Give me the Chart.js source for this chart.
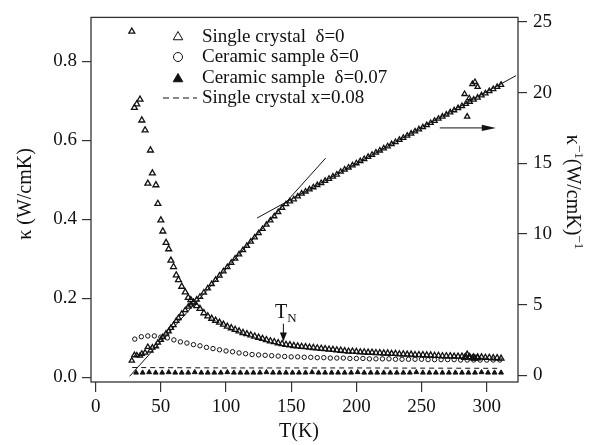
<!DOCTYPE html>
<html>
<head>
<meta charset="utf-8">
<script src="https://cdn.jsdelivr.net/npm/chart.js@4.4.1/dist/chart.umd.min.js"></script>
<style>
  html, body { margin: 0; padding: 0; background: #fff; }
  #wrap { width: 605px; height: 445px; }
</style>
</head>
<body>
<div id="wrap"><canvas id="kappaChart" width="605" height="445"></canvas></div>
<script>
// Single crystal delta=0 : kappa (left axis) and 1/kappa (right axis)
const tempSingle = [
  27.7, 29.7, 31.5, 34, 35.4, 37.9, 40, 42, 43.5, 46.2, 47.7, 50, 51.5, 54, 56, 57.7, 59.7, 61.8, 63.5, 66, 68.7, 71, 73, 75, 77.5,
  80, 83, 86, 89, 92, 95, 98, 101, 104, 107, 110, 113, 116, 119, 122, 125, 128, 131, 134, 137, 140, 143, 146, 149,
  152, 155, 158, 161, 164, 167, 170, 173, 176, 179, 182, 185, 188, 191, 194, 197, 200, 203, 206, 209, 212, 215, 218,
  221, 224, 227, 230, 233, 236, 239, 242, 245, 248, 251, 254, 257, 260, 263, 266, 269, 272, 275, 278, 281, 284, 287,
  290, 293, 296, 299, 302, 305, 308, 311,
  283, 285, 286.6, 289, 291, 293
];
const kappaSingle = [
  0.876, 0.683, 0.692, 0.704, 0.651, 0.626, 0.491, 0.575, 0.517, 0.487, 0.44, 0.398, 0.37, 0.341, 0.325, 0.296, 0.28, 0.259, 0.247, 0.23, 0.216, 0.202, 0.196, 0.19, 0.181,
  0.174, 0.163, 0.155, 0.149, 0.144, 0.139, 0.134, 0.129, 0.125, 0.121, 0.117, 0.113, 0.110, 0.107, 0.104, 0.101, 0.098, 0.095, 0.092, 0.090, 0.087, 0.085, 0.083, 0.082,
  0.080, 0.079, 0.078, 0.077, 0.076, 0.075, 0.074, 0.073, 0.072, 0.071, 0.070, 0.069, 0.068, 0.067, 0.066, 0.066, 0.065, 0.064, 0.064, 0.063, 0.063, 0.062, 0.062,
  0.061, 0.061, 0.060, 0.060, 0.059, 0.059, 0.058, 0.058, 0.057, 0.057, 0.057, 0.056, 0.056, 0.055, 0.055, 0.054, 0.054, 0.054, 0.053, 0.053, 0.053, 0.052, 0.052,
  0.051, 0.051, 0.051, 0.050, 0.050, 0.049, 0.049, 0.048,
  0.050, 0.058, 0.051, 0.0485, 0.048, 0.049
];
const invKappaSingle = [
  1.03, 1.42, 1.40, 1.38, 1.52, 1.6, 2.0, 1.75, 1.95, 2.05, 2.3, 2.5, 2.7, 2.95, 3.1, 3.35, 3.55, 3.85, 4.05, 4.35, 4.6, 4.85, 5.0, 5.15, 5.35,
  5.55, 5.85, 6.15, 6.45, 6.75, 7.05, 7.35, 7.65, 7.95, 8.25, 8.55, 8.85, 9.15, 9.45, 9.75, 10.05, 10.35, 10.65, 10.95, 11.25, 11.55, 11.85, 12.1, 12.3,
  12.45, 12.65, 12.85, 13.0, 13.15, 13.3, 13.45, 13.6, 13.75, 13.9, 14.05, 14.2, 14.4, 14.55, 14.7, 14.85, 15.0, 15.15, 15.3, 15.45, 15.6, 15.75, 15.9,
  16.05, 16.2, 16.35, 16.5, 16.65, 16.8, 16.95, 17.1, 17.25, 17.4, 17.55, 17.7, 17.85, 18.0, 18.15, 18.3, 18.45, 18.6, 18.75, 18.9, 19.05, 19.2, 19.35,
  19.5, 19.65, 19.8, 19.95, 20.1, 20.25, 20.4, 20.55,
  19.9, 18.3, 19.6, 20.6, 20.75, 20.4
];

// Ceramic sample delta=0
const tempCeramic = [30, 35, 40, 45, 50, 55, 60, 65, 70, 75, 80, 85, 90, 95, 100, 105, 110, 115, 120, 125, 130, 135, 140, 145, 150,
  155, 160, 165, 170, 175, 180, 185, 190, 195, 200, 205, 210, 215, 220, 225, 230, 235, 240, 245, 250, 255, 260, 265, 270, 275,
  280, 285, 290, 295, 300, 305, 310];
const kappaCeramic = [0.097, 0.103, 0.105, 0.105, 0.102, 0.100, 0.095, 0.090, 0.087, 0.083, 0.080, 0.076, 0.073, 0.070, 0.067, 0.065, 0.062, 0.060, 0.058, 0.057, 0.056, 0.055, 0.054, 0.053, 0.052,
  0.052, 0.051, 0.051, 0.050, 0.050, 0.049, 0.049, 0.049, 0.048, 0.048, 0.048, 0.047, 0.047, 0.047, 0.047, 0.046, 0.046, 0.046, 0.046, 0.046, 0.045, 0.045, 0.045, 0.045, 0.045,
  0.044, 0.044, 0.044, 0.044, 0.044, 0.044, 0.044];

// Ceramic sample delta=0.07
const tempCeramic07 = [31, 36, 41, 46, 51, 56, 61, 66, 71, 76, 81, 86, 91, 96, 101, 106, 111, 116, 121, 126, 131, 136, 141, 146, 151,
  156, 161, 166, 171, 176, 181, 186, 191, 196, 201, 206, 211, 216, 221, 226, 231, 236, 241, 246, 251, 256, 261, 266, 271, 276,
  281, 286, 291, 296, 301, 306, 311];
const kappaCeramic07 = [0.012, 0.012, 0.013, 0.012, 0.012, 0.013, 0.012, 0.012, 0.012, 0.013, 0.012, 0.012, 0.012, 0.012, 0.013, 0.012, 0.012, 0.012, 0.012, 0.012, 0.013, 0.012, 0.012, 0.012, 0.012,
  0.012, 0.012, 0.013, 0.012, 0.012, 0.012, 0.012, 0.012, 0.012, 0.013, 0.012, 0.012, 0.012, 0.012, 0.012, 0.012, 0.012, 0.012, 0.013, 0.012, 0.012, 0.012, 0.012, 0.012, 0.012,
  0.012, 0.012, 0.012, 0.013, 0.012, 0.012, 0.012];

// Single crystal x=0.08 (dashed)
const tempX008 = [28, 100, 200, 311];
const kappaX008 = [0.025, 0.024, 0.024, 0.023];

// straight-line fits on 1/kappa
const fitLowT = [26, 176.4];
const fitLowInv = [-0.08, 15.36];
const fitHighT = [123.8, 322.5];
const fitHighInv = [11.12, 21.2];

const xTicks = [0, 50, 100, 150, 200, 250, 300];
const yTicks = [0.0, 0.2, 0.4, 0.6, 0.8];
const y2Ticks = [0, 5, 10, 15, 20, 25];

const legendLabels = ["Single crystal  \u03b4=0", "Ceramic sample \u03b4=0", "Ceramic sample  \u03b4=0.07", "Single crystal x=0.08"];

const FONT = "'Liberation Serif', 'Times New Roman', serif";
const INK = "#111";

function pts(xs, ys) {
    return xs.map((x, i) => ({ x, y: ys[i] }));
}

function fixedTicks(list) {
    return scale => { scale.ticks = list.map(v => ({ value: v })); };
}

function drawArrowHead(ctx, x, y, dx, dy, len, half) {
    // tip at (x,y), pointing along (dx,dy)
    const px = -dy, py = dx;
    ctx.beginPath();
    ctx.moveTo(x, y);
    ctx.lineTo(x - dx * len + px * half, y - dy * len + py * half);
    ctx.lineTo(x - dx * len - px * half, y - dy * len - py * half);
    ctx.closePath();
    ctx.fill();
}

const decorPlugin = {
    id: "decor",
    afterDraw(chart) {
        const { ctx, chartArea: a, scales } = chart;
        const sx = scales.x, sy = scales.y, sy2 = scales.y2;
        ctx.save();

        // frame
        ctx.strokeStyle = "#333";
        ctx.lineWidth = 1.3;
        ctx.strokeRect(a.left, a.top, a.right - a.left, a.bottom - a.top);

        ctx.fillStyle = INK;
        ctx.strokeStyle = INK;

        // axis titles
        ctx.font = "20px " + FONT;
        ctx.textAlign = "center";
        ctx.textBaseline = "middle";
        ctx.fillText("T(K)", 299, 432);

        ctx.save();
        ctx.translate(26, 194);
        ctx.rotate(-Math.PI / 2);
        ctx.fillText("\u03ba (W/cmK)", 0, 0);
        ctx.restore();

        const parts = [["\u03ba", 20, 0], ["\u22121", 13, -8], ["(W/cmK)", 20, 0], ["\u22121", 13, -8]];
        let total = 0;
        parts.forEach(p => { ctx.font = p[1] + "px " + FONT; total += ctx.measureText(p[0]).width; });
        ctx.save();
        ctx.translate(574, 192);
        ctx.rotate(Math.PI / 2);
        ctx.textAlign = "left";
        ctx.textBaseline = "alphabetic";
        let cx = -total / 2;
        parts.forEach(p => {
            ctx.font = p[1] + "px " + FONT;
            ctx.fillText(p[0], cx, 7 + p[2]);
            cx += ctx.measureText(p[0]).width;
        });
        ctx.restore();

        // legend
        const lx = 178, ly = [37, 57, 78, 98];
        ctx.lineWidth = 1;
        ctx.fillStyle = "#fff";
        Chart.helpers.drawPoint(ctx, { pointStyle: "triangle", radius: 5.5, borderWidth: 1 }, lx, ly[0]);
        Chart.helpers.drawPoint(ctx, { pointStyle: "circle", radius: 4.5, borderWidth: 1 }, lx, ly[1]);
        ctx.fillStyle = INK;
        Chart.helpers.drawPoint(ctx, { pointStyle: "triangle", radius: 5.5, borderWidth: 1 }, lx, ly[2] + 1);
        ctx.setLineDash([6, 4]);
        ctx.beginPath();
        ctx.moveTo(163, ly[3]);
        ctx.lineTo(197, ly[3]);
        ctx.stroke();
        ctx.setLineDash([]);

        ctx.font = "19px " + FONT;
        ctx.textAlign = "left";
        ctx.textBaseline = "middle";
        legendLabels.forEach((t, i) => ctx.fillText(t, 202, ly[i]));

        // T_N marker
        const tnX = sx.getPixelForValue(144);
        ctx.font = "20px " + FONT;
        ctx.textBaseline = "alphabetic";
        const tX = sx.getPixelForValue(137.6), tY = sy.getPixelForValue(0.151);
        ctx.fillText("T", tX, tY);
        const tw = ctx.measureText("T").width;
        ctx.font = "13px " + FONT;
        ctx.fillText("N", tX + tw, tY + 4);
        const aTop = sy.getPixelForValue(0.136), aBot = sy.getPixelForValue(0.091);
        ctx.lineWidth = 1;
        ctx.beginPath();
        ctx.moveTo(tnX, aTop);
        ctx.lineTo(tnX, aBot - 6);
        ctx.stroke();
        drawArrowHead(ctx, tnX, aBot, 0, 1, 9, 3.5);

        // arrow pointing to the right axis
        const ay = sy2.getPixelForValue(17.5);
        const ax0 = sx.getPixelForValue(264), ax1 = sx.getPixelForValue(307);
        ctx.beginPath();
        ctx.moveTo(ax0, ay);
        ctx.lineTo(ax1 - 10, ay);
        ctx.stroke();
        drawArrowHead(ctx, ax1, ay, 1, 0, 14, 3.2);

        ctx.restore();
    }
};

const axisGrid = { display: true, drawOnChartArea: false, drawTicks: true, tickLength: 9, color: "#333", lineWidth: 1.2 };
const tickFont = { family: FONT, size: 19 };

const ctx = document.getElementById("kappaChart");
new Chart(ctx, {
    type: "scatter",
    data: {
        datasets: [
            {
                label: "fit low",
                data: pts(fitLowT, fitLowInv),
                yAxisID: "y2",
                showLine: true,
                borderColor: INK,
                borderWidth: 1,
                pointRadius: 0
            },
            {
                label: "fit high",
                data: pts(fitHighT, fitHighInv),
                yAxisID: "y2",
                showLine: true,
                borderColor: INK,
                borderWidth: 1,
                pointRadius: 0
            },
            {
                label: legendLabels[3],
                data: pts(tempX008, kappaX008),
                yAxisID: "y",
                showLine: true,
                borderColor: INK,
                borderWidth: 1,
                borderDash: [5, 4],
                pointRadius: 0
            },
            {
                label: legendLabels[2],
                data: pts(tempCeramic07, kappaCeramic07),
                yAxisID: "y",
                pointStyle: "triangle",
                pointRadius: 2.8,
                borderWidth: 1,
                borderColor: INK,
                backgroundColor: INK
            },
            {
                label: legendLabels[1],
                data: pts(tempCeramic, kappaCeramic),
                yAxisID: "y",
                pointStyle: "circle",
                pointRadius: 2.2,
                borderWidth: 1,
                borderColor: INK,
                backgroundColor: "rgba(255,255,255,0)"
            },
            {
                label: "inverse",
                data: pts(tempSingle, invKappaSingle),
                yAxisID: "y2",
                pointStyle: "triangle",
                pointRadius: 3,
                borderWidth: 1.3,
                borderColor: INK,
                backgroundColor: "rgba(255,255,255,0)"
            },
            {
                label: legendLabels[0],
                data: pts(tempSingle, kappaSingle),
                yAxisID: "y",
                pointStyle: "triangle",
                pointRadius: 3.4,
                borderWidth: 1.3,
                borderColor: INK,
                backgroundColor: "rgba(255,255,255,0)"
            }
        ]
    },
    options: {
        responsive: false,
        animation: false,
        devicePixelRatio: 1,
        layout: { padding: { top: 7, left: 0, right: 0, bottom: 0 } },
        plugins: { legend: { display: false }, tooltip: { enabled: false } },
        scales: {
            x: {
                type: "linear",
                min: -3.6,
                max: 324,
                afterBuildTicks: fixedTicks(xTicks),
                afterFit: s => { s.height = 63; },
                grid: { ...axisGrid, tickLength: 10 },
                border: { display: false },
                ticks: { font: tickFont, color: INK, padding: 4, maxRotation: 0 }
            },
            y: {
                type: "linear",
                position: "left",
                min: -0.0116,
                max: 0.9115,
                afterBuildTicks: fixedTicks(yTicks),
                afterFit: s => { s.width = 91; },
                grid: axisGrid,
                border: { display: false },
                ticks: { font: tickFont, color: INK, padding: 5, callback: v => v.toFixed(1) }
            },
            y2: {
                type: "linear",
                position: "right",
                min: -0.48,
                max: 25.32,
                afterBuildTicks: fixedTicks(y2Ticks),
                afterFit: s => { s.width = 87; },
                grid: axisGrid,
                border: { display: false },
                ticks: { font: tickFont, color: INK, padding: 6, callback: v => String(v) }
            }
        }
    },
    plugins: [decorPlugin]
});
</script>
</body>
</html>
